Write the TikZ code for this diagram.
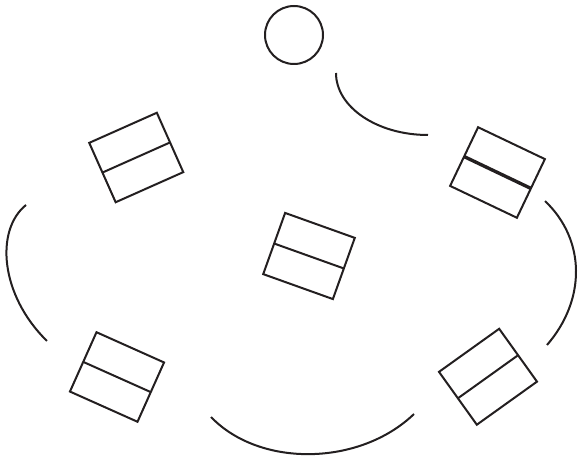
\documentclass[tikz,border=0pt]{standalone}
\usetikzlibrary{calc}
\definecolor{ink}{HTML}{231F20}
\tikzset{
  stroke/.style={draw=ink, line width=2pt},
  box/.style={stroke, rectangle, minimum width=74pt, minimum height=65pt, inner sep=0pt, outer sep=0pt},
  ring/.style={stroke, circle, minimum size=58pt, inner sep=0pt},
  arcline/.style={ink, line width=2pt}
}
\begin{document}
\begin{tikzpicture}[x=1pt,y=1pt]
\useasboundingbox (0,0) rectangle (579,461);
% circle
\node[ring] (c) at (294,426) {};
% boxes
\node[box, rotate=24] (b1) at (136.25,303.5) {};
\node[box, rotate=-25.5] (b2) at (497.5,288.5) {};
\node[box, rotate=-19.7] (b3) at (309,205) {};
\node[box, rotate=-24.1] (b4) at (117,84) {};
\node[box, rotate=35.6] (b5) at (488,84.25) {};
% dividers
\draw[arcline] (b1.west) -- (b1.east);
\draw[ink, line width=3.4pt] (b2.west) -- (b2.east);
\draw[arcline] (b3.west) -- (b3.east);
\draw[arcline] (b4.west) -- (b4.east);
\draw[arcline] (b5.west) -- (b5.east);
% arcs
\coordinate (t1) at (336,388);
\coordinate (t2) at (428,326);
\coordinate (l1) at (26,256);
\coordinate (l2) at (47,120);
\coordinate (r1) at (545,260);
\coordinate (r2) at (547,116);
\coordinate (d1) at (211,44);
\coordinate (d2) at (414,47);
\draw[arcline] (t1) .. controls (336,354) and (377,326) .. (t2);
\draw[arcline] (l1) .. controls (-5,231) and (0,166) .. (l2);
\draw[arcline] (r1) .. controls (586,221) and (586,161) .. (r2);
\draw[arcline] (d1) .. controls (260,-7) and (360,-5) .. (d2);
\end{tikzpicture}
\end{document}
